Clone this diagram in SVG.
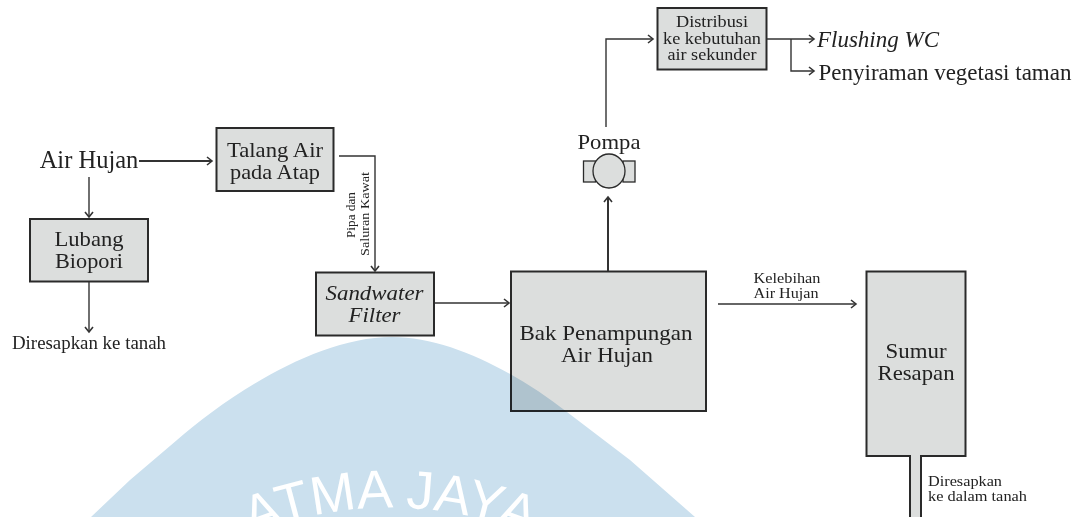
<svg xmlns="http://www.w3.org/2000/svg" width="1088" height="517" viewBox="0 0 1088 517">
<style>
text{font-family:"Liberation Serif","Times New Roman",serif;fill:#222;text-anchor:middle}
.box{fill:#dcdedd;stroke:#2a2a2a;stroke-width:2}
.c{fill:none;stroke:#333;stroke-width:1.400;marker-end:url(#a)}
.i{font-style:italic}
.l{font-size:21.500px}
.d{font-size:16px}
.s{font-size:14.500px}
</style>
<defs>
<marker id="a" markerUnits="userSpaceOnUse" markerWidth="9" markerHeight="11" refX="7" refY="5.500" orient="auto"><path d="M2 1.500L7 5.500L2 9.500" fill="none" stroke="#333" stroke-width="1.600"/></marker>
</defs>
<rect width="1088" height="517" fill="#fff"/>
<g id="talang"><rect class="box" x="216.500" y="128" width="117" height="63"/><text class="l" x="275" y="157" textLength="96" lengthAdjust="spacingAndGlyphs">Talang Air</text><text class="l" x="275" y="179" textLength="90" lengthAdjust="spacingAndGlyphs">pada Atap</text></g>
<g id="biopori"><rect class="box" x="30" y="219" width="118" height="62.500"/><text class="l" x="89" y="246" textLength="69" lengthAdjust="spacingAndGlyphs">Lubang</text><text class="l" x="89" y="268" textLength="68" lengthAdjust="spacingAndGlyphs">Biopori</text></g>
<g id="sandwater"><rect class="box" x="316" y="272.500" width="118" height="63"/><text class="i l" x="374.500" y="300" textLength="98" lengthAdjust="spacingAndGlyphs">Sandwater</text><text class="i l" x="374.500" y="322" textLength="52" lengthAdjust="spacingAndGlyphs">Filter</text></g>
<g id="bak"><rect class="box" x="511" y="271.500" width="195" height="139.500"/><text class="l" x="606" y="340" textLength="173" lengthAdjust="spacingAndGlyphs">Bak Penampungan</text><text class="l" x="607" y="362" textLength="92" lengthAdjust="spacingAndGlyphs">Air Hujan</text></g>
<g id="sumur"><rect class="box" x="866.500" y="271.500" width="99" height="184.500"/><text class="l" x="916" y="358" textLength="61" lengthAdjust="spacingAndGlyphs">Sumur</text><text class="l" x="916" y="380" textLength="77" lengthAdjust="spacingAndGlyphs">Resapan</text></g>
<g id="saluran"><path d="M910 456V517M921 456V517" fill="none" stroke="#2a2a2a" stroke-width="2"/><rect x="911" y="455" width="9" height="62" fill="#dcdedd"/></g>
<g id="distribusi"><rect class="box" x="657.500" y="8" width="109" height="61.500"/><text class="d" x="712" y="27" textLength="72" lengthAdjust="spacingAndGlyphs">Distribusi</text><text class="d" x="712" y="43.500" textLength="98" lengthAdjust="spacingAndGlyphs">ke kebutuhan</text><text class="d" x="712" y="60" textLength="89" lengthAdjust="spacingAndGlyphs">air sekunder</text></g>
<g id="pompa"><rect x="583.500" y="161" width="12" height="21" fill="#dcdedd" stroke="#2a2a2a" stroke-width="1.300"/><rect x="623" y="161" width="12" height="21" fill="#dcdedd" stroke="#2a2a2a" stroke-width="1.300"/><ellipse cx="609" cy="171" rx="16" ry="17" fill="#dcdedd" stroke="#2a2a2a" stroke-width="1.300"/><text x="609" y="149" font-size="22" textLength="63" lengthAdjust="spacingAndGlyphs">Pompa</text></g>
<g id="connectors">
<path class="c" d="M139 161H212" style="stroke-width:2"/>
<path class="c" d="M89 177V217"/>
<path class="c" d="M89 282V332"/>
<path class="c" d="M339 156H375V271"/>
<path class="c" d="M435 303H509"/>
<path class="c" d="M608 271V197" style="stroke-width:2"/>
<path class="c" d="M606 127V39H653"/>
<path class="c" d="M767 39H814"/>
<path class="c" d="M791 39V71H814"/>
<path class="c" d="M718 304H856"/>
</g>
<g id="labels">
<text x="89" y="168" font-size="24.500">Air Hujan</text>
<text x="89" y="349" font-size="18.500" textLength="154" lengthAdjust="spacingAndGlyphs">Diresapkan ke tanah</text>
<text class="i" x="878" y="47" font-size="23">Flushing WC</text>
<text x="945" y="80" font-size="23">Penyiraman vegetasi taman</text>
<text class="s" x="787" y="283" textLength="67" lengthAdjust="spacingAndGlyphs">Kelebihan</text>
<text class="s" x="786" y="298" textLength="65" lengthAdjust="spacingAndGlyphs">Air Hujan</text>
<text class="s" x="928" y="486" textLength="74" lengthAdjust="spacingAndGlyphs" style="text-anchor:start">Diresapkan</text>
<text class="s" x="928" y="501" textLength="99" lengthAdjust="spacingAndGlyphs" style="text-anchor:start">ke dalam tanah</text>
<text transform="translate(355 215) rotate(-90)" font-size="13" textLength="46" lengthAdjust="spacingAndGlyphs">Pipa dan</text>
<text transform="translate(369 214) rotate(-90)" font-size="13" textLength="84" lengthAdjust="spacingAndGlyphs">Saluran Kawat</text>
</g>
<g id="watermark" style="mix-blend-mode:multiply">
<path d="M91 517L130 480L177 440C225 398 315 337 392 337C450 337 515 372 567 412L630 460L695 517Z" fill="#cbe0ee"/>
</g>
<path id="arc" d="M90 667A362 362 0 0 1 690 667" fill="none"/>
<text font-size="54" style="font-family:'Liberation Sans',Arial,sans-serif;fill:#fff"><textPath href="#arc" startOffset="50%">ATMA JAYA</textPath></text>
</svg>
